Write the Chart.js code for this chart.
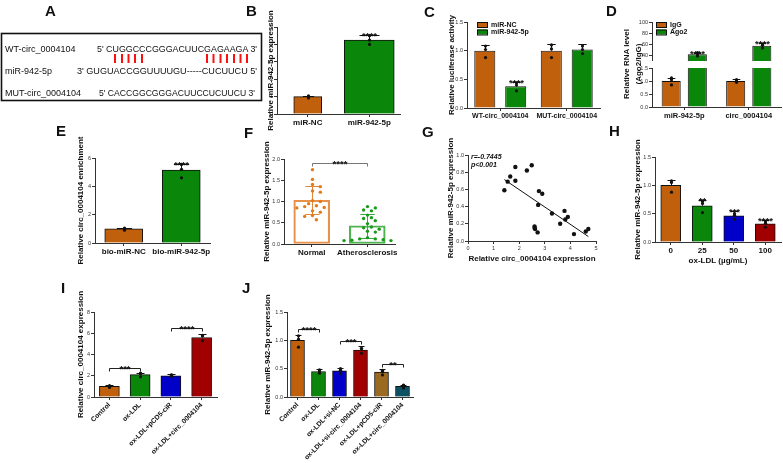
<!DOCTYPE html>
<html>
<head>
<meta charset="utf-8">
<script src="https://cdn.jsdelivr.net/npm/chart.js@4.4.0/dist/chart.umd.min.js"></script>
<style>
  body { margin: 0; width: 783px; height: 463px; position: relative; overflow: hidden; background: #fff; }
  canvas { position: absolute; }
  #overlay { position: absolute; left: 0; top: 0; z-index: 5; pointer-events: none; }
</style>
</head>
<body>
<svg id="overlay" width="783" height="463"></svg>
<script>
const FONT = 'Arial, "Liberation Sans", sans-serif';
const ORANGE = '#C0600C', GREEN = '#0A870A', BLUE = '#0000C8', RED = '#A00000', BROWN = '#9A6A20', TEAL = '#0C5064';

// B
const bLabels = ['miR-NC', 'miR-942-5p'];
const bMeans = [1.0, 4.25];
const bErr = [0.06, 0.28];
const bDots = [[0.92, 1.0, 1.04], [4.5, 4.0, 4.25]];

// C
const cLabels = ['WT-circ_0004104', 'MUT-circ_0004104'];
const cNC = [1.0, 1.0];
const cNCErr = [0.1, 0.12];
const cNCDots = [[0.88, 1.02, 1.08], [0.88, 1.03, 1.1]];
const c942 = [0.38, 1.02];
const c942Err = [0.08, 0.09];
const c942Dots = [[0.3, 0.4, 0.44], [0.95, 1.02, 1.08]];

// D
const dLabels = ['miR-942-5p', 'circ_0004104'];
const dIgG = [1.0, 1.0];
const dIgGErr = [0.12, 0.06];
const dIgGDots = [[0.85, 1.05, 1.12], [0.95, 1.0, 1.05]];
const dAgo2 = [43, 58];
const dAgo2Err = [3, 4];
const dAgo2Dots = [[40, 44, 46], [54, 59, 61]];

// E
const eLabels = ['bio-miR-NC', 'bio-miR-942-5p'];
const eMeans = [1.0, 5.15];
const eErr = [0.08, 0.45];
const eDots = [[0.9, 1.0, 1.06], [4.6, 5.2, 5.55]];

// F
const fLabels = ['Normal', 'Atherosclerosis'];
const fMeans = [1.03, 0.43];
const fSD = [0.33, 0.28];
const fNormal = [1.75, 1.52, 1.40, 1.35, 1.25, 1.22, 1.02, 1.00, 0.95, 0.90, 0.88, 0.86, 0.85, 0.78, 0.75, 0.67, 0.65, 0.57];
const fAthero = [0.88, 0.85, 0.80, 0.78, 0.68, 0.62, 0.60, 0.55, 0.48, 0.40, 0.38, 0.35, 0.30, 0.28, 0.15, 0.12, 0.10, 0.08, 0.08, 0.07, 0.09, 0.12];

// G
const gX = [1.42, 1.55, 1.65, 1.85, 1.85, 2.3, 2.49, 2.77, 2.9, 2.74, 2.6, 2.6, 2.62, 2.72, 3.28, 3.6, 3.77, 3.8, 3.9, 4.14, 4.6, 4.7];
const gY = [0.59, 0.69, 0.75, 0.86, 0.70, 0.82, 0.88, 0.58, 0.55, 0.42, 0.17, 0.15, 0.14, 0.10, 0.32, 0.20, 0.35, 0.25, 0.28, 0.08, 0.11, 0.14];

// H
const hLabels = ['0', '25', '50', '100'];
const hMeans = [1.0, 0.64, 0.46, 0.32];
const hErr = [0.1, 0.1, 0.08, 0.07];
const hDots = [[0.88, 1.05, 1.08], [0.52, 0.68, 0.72], [0.4, 0.47, 0.5], [0.26, 0.33, 0.36]];
const hStars = ['', '**', '***', '****'];

// I
const iLabels = ['Control', 'ox-LDL', 'ox-LDL+pCD5-ciR', 'ox-LDL+circ_0004104'];
const iMeans = [1.0, 2.1, 2.0, 5.6];
const iErr = [0.1, 0.2, 0.15, 0.35];
const iDots = [[0.9, 1.0, 1.08], [1.9, 2.2, 2.25], [1.92, 2.05, 2.08], [5.3, 5.75, 5.8]];
const iBrackets = [[0, 1, 2.75, '***'], [2, 3, 6.5, '****']];

// J
const jLabels = ['Control', 'ox-LDL', 'ox-LDL+si-NC', 'ox-LDL+si-circ_0004104', 'ox-LDL+pCD5-ciR', 'ox-LDL+circ_0004104'];
const jMeans = [1.0, 0.45, 0.46, 0.83, 0.44, 0.19];
const jErr = [0.1, 0.05, 0.06, 0.07, 0.06, 0.03];
const jDots = [[0.88, 1.02, 1.08], [0.42, 0.46, 0.48], [0.41, 0.47, 0.5], [0.77, 0.85, 0.86], [0.39, 0.45, 0.47], [0.16, 0.2, 0.21]];
const jBrackets = [[0, 1, 1.2, '****'], [2, 3, 0.99, '***'], [4, 5, 0.58, '**']];

const overlay = document.getElementById('overlay');
const svgNS = 'http://www.w3.org/2000/svg';
const STAR_FONT = `bold 9.5px ${FONT}`;

function svgText(txt, x, y, o = {}) {
    const t = document.createElementNS(svgNS, 'text');
    t.textContent = txt;
    t.setAttribute('x', x);
    t.setAttribute('y', y);
    t.setAttribute('font-family', FONT);
    t.setAttribute('font-size', o.size || 9);
    t.setAttribute('fill', o.color || '#111');
    if (o.weight) t.setAttribute('font-weight', o.weight);
    if (o.italic) t.setAttribute('font-style', 'italic');
    if (o.anchor) t.setAttribute('text-anchor', o.anchor);
    if (o.baseline) t.setAttribute('dominant-baseline', o.baseline);
    if (o.rotate) t.setAttribute('transform', `rotate(${o.rotate} ${x} ${y})`);
    if (o.len) {
        t.setAttribute('textLength', o.len);
        t.setAttribute('lengthAdjust', 'spacingAndGlyphs');
    }
    overlay.appendChild(t);
}

function svgLine(x1, y1, x2, y2, color, w) {
    const l = document.createElementNS(svgNS, 'line');
    l.setAttribute('x1', x1); l.setAttribute('y1', y1);
    l.setAttribute('x2', x2); l.setAttribute('y2', y2);
    l.setAttribute('stroke', color);
    l.setAttribute('stroke-width', w);
    overlay.appendChild(l);
}

function yTitle(txt, x, yc) {
    svgText(txt, x, yc, {size: 8, weight: 'bold', anchor: 'middle', baseline: 'central', rotate: -90});
}

function pick(v, i) {
    return Array.isArray(v) ? v[i] : v;
}

// simple beeswarm offsets (pixels) for dots that would overlap
function swarm(ys, r) {
    const placed = [];
    const offs = ys.map(() => 0);
    const order = ys.map((y, i) => i).sort((a, b) => ys[a] - ys[b]);
    const d = r * 2.3;
    const gap = 2 * r + 1.2;
    order.forEach(i => {
        for (let k = 0; k < 40; k++) {
            const dx = (k % 2 ? 1 : -1) * Math.ceil(k / 2) * d;
            const hit = placed.some(p => (p.x - dx) ** 2 + (p.y - ys[i]) ** 2 < gap ** 2);
            if (!hit) {
                offs[i] = dx;
                placed.push({x: dx, y: ys[i]});
                break;
            }
        }
    });
    return offs;
}

// error bars, replicate dots and stars
const marks = {
    id: 'marks',
    afterDatasetsDraw(chart) {
        const ctx = chart.ctx;
        const y = chart.scales.y;
        chart.data.datasets.forEach((ds, di) => {
            if (!ds.err && !ds.dots) return;
            chart.getDatasetMeta(di).data.forEach((bar, i) => {
                const v = ds.data[i];
                if (v == null || v < y.min || v > y.max) return;
                const cx = Math.round(bar.x) + 0.5;
                const col = pick(ds.markColor, i) || '#111';
                ctx.save();
                ctx.strokeStyle = col;
                ctx.lineWidth = 1;
                let topY = y.getPixelForValue(v);
                if (ds.err) {
                    const e = ds.err[i];
                    topY = Math.round(y.getPixelForValue(v + e)) + 0.5;
                    const lowY = ds.errBoth ? Math.round(y.getPixelForValue(v - e)) + 0.5 : y.getPixelForValue(v);
                    const cap = Math.max(3, bar.width * 0.2);
                    ctx.beginPath();
                    ctx.moveTo(cx, lowY);
                    ctx.lineTo(cx, topY);
                    ctx.moveTo(cx - cap, topY);
                    ctx.lineTo(cx + cap, topY);
                    if (ds.errBoth) {
                        ctx.moveTo(cx - cap, lowY);
                        ctx.lineTo(cx + cap, lowY);
                    }
                    ctx.stroke();
                }
                if (ds.dots) {
                    const r = ds.dotR || 1.6;
                    const pts = ds.dots[i].map(d => y.getPixelForValue(d));
                    const offs = ds.swarm ? swarm(pts, r) : pts.map(() => 0);
                    ctx.fillStyle = pick(ds.dotColor, i) || '#111';
                    pts.forEach((py, k) => {
                        ctx.beginPath();
                        ctx.arc(cx + offs[k], py, r, 0, Math.PI * 2);
                        ctx.fill();
                    });
                }
                if (ds.stars && ds.stars[i]) {
                    ctx.fillStyle = '#111';
                    ctx.font = STAR_FONT;
                    ctx.textAlign = 'center';
                    ctx.textBaseline = 'alphabetic';
                    ctx.fillText(ds.stars[i], cx, topY + 3);
                }
                ctx.restore();
            });
        });
    }
};

function bracketPlugin(list, color) {
    return {
        id: 'brackets',
        afterDatasetsDraw(chart) {
            const {ctx, scales: {x, y}} = chart;
            ctx.save();
            ctx.strokeStyle = color || '#222';
            ctx.fillStyle = '#111';
            ctx.lineWidth = 1;
            ctx.font = STAR_FONT;
            ctx.textAlign = 'center';
            list.forEach(b => {
                const x1 = Math.round(x.getPixelForValue(b[0])) + 0.5;
                const x2 = Math.round(x.getPixelForValue(b[1])) + 0.5;
                const py = Math.round(y.getPixelForValue(b[2])) + 0.5;
                ctx.beginPath();
                ctx.moveTo(x1, py + 3);
                ctx.lineTo(x1, py);
                ctx.lineTo(x2, py);
                ctx.lineTo(x2, py + 3);
                ctx.stroke();
                ctx.fillText(b[3], (x1 + x2) / 2, py + 3);
            });
            ctx.restore();
        }
    };
}

function boxLegend(dx, dy) {
    return {
        id: 'boxLegend',
        afterDraw(chart) {
            const {ctx, chartArea} = chart;
            ctx.save();
            chart.data.datasets.forEach((ds, i) => {
                const x = chartArea.left + dx, y = chartArea.top + dy + i * 7.5;
                ctx.fillStyle = ds.backgroundColor;
                ctx.fillRect(x, y, 10, 5);
                ctx.strokeStyle = '#111';
                ctx.lineWidth = 1;
                ctx.strokeRect(x + 0.5, y + 0.5, 10, 5);
                ctx.fillStyle = '#111';
                ctx.font = `bold 7px ${FONT}`;
                ctx.textBaseline = 'middle';
                ctx.fillText(ds.label, x + 14, y + 3);
            });
            ctx.restore();
        }
    };
}

function place(left, top, w, h) {
    const c = document.createElement('canvas');
    c.width = w;
    c.height = h;
    c.style.left = left + 'px';
    c.style.top = top + 'px';
    document.body.appendChild(c);
    return c;
}

// g: left, ax, yTop, yBot, xRight, xH, padTop, yMin, yMax, yStep, yDec
function axisChart(g, type, data, extra) {
    const top = g.yTop - g.padTop;
    const w = g.xRight - g.left + 2;
    const h = g.yBot - top + g.xH;
    const leftW = g.ax - g.left;
    const cv = place(g.left, top, w, h);
    const xScale = g.xScale || {
        type: 'category',
        display: g.xHidden ? false : true,
        grid: {drawOnChartArea: false, tickLength: 3, offset: false, color: '#333'},
        border: {color: '#333'},
        ticks: {
            font: {family: FONT, size: g.xFont || 8, weight: 'bold'},
            color: '#111', padding: 1, autoSkip: false,
            maxRotation: g.xRot || 0, minRotation: g.xRot || 0
        }
    };
    if (g.xTitle) {
        xScale.title = {display: true, text: g.xTitle, font: {family: FONT, size: 8, weight: 'bold', lineHeight: 1}, color: '#111', padding: 0};
    }
    xScale.afterFit = s => {
        s.height = g.xH;
        s.paddingLeft = 0;
        s.paddingRight = 0;
    };
    return new Chart(cv, {
        type: type,
        data: data,
        options: {
            responsive: false,
            animation: false,
            devicePixelRatio: 1,
            layout: {padding: {top: g.padTop, right: 2, left: 0, bottom: 0}},
            plugins: {legend: {display: false}, tooltip: {enabled: false}},
            scales: {
                x: xScale,
                y: {
                    min: g.yMin, max: g.yMax,
                    grid: {drawOnChartArea: false, tickLength: 3, color: '#333'},
                    border: {color: '#333'},
                    ticks: {
                        stepSize: g.yStep,
                        font: {family: FONT, size: 5.5},
                        color: '#333', padding: 1,
                        callback: v => Number(v).toFixed(g.yDec || 0)
                    },
                    afterBuildTicks: g.yTicks ? s => { s.ticks = g.yTicks.map(v => ({value: v})); } : undefined,
                    afterFit: s => {
                        s.width = leftW;
                        s.paddingTop = 0;
                        s.paddingBottom = 0;
                    }
                }
            }
        },
        plugins: [marks].concat(extra || [])
    });
}

function panelA() {
    const r = document.createElementNS(svgNS, 'rect');
    r.setAttribute('x', 1.5); r.setAttribute('y', 33.5);
    r.setAttribute('width', 260); r.setAttribute('height', 67);
    r.setAttribute('fill', 'none'); r.setAttribute('stroke', '#111'); r.setAttribute('stroke-width', 1.6);
    overlay.appendChild(r);
    svgText('WT-circ_0004104', 5, 52, {size: 9});
    svgText('miR-942-5p', 5, 74, {size: 9});
    svgText('MUT-circ_0004104', 5, 96, {size: 9});
    svgText("5' CUGGCCCGGGACUUCGAGAAGA 3'", 97, 52, {size: 9, len: 160});
    svgText("3' GUGUACCGGUUUUGU-----CUCUUCU 5'", 77, 74, {size: 9, len: 180});
    svgText("5' CACCGGCGGGACUUCCUCUUCU 3'", 99, 96, {size: 9, len: 156});
    [115, 122, 128.5, 135, 142, 207, 213.5, 220.5, 227, 234, 240.5, 247].forEach(x => svgLine(x, 54, x, 63, '#FF1010', 2));
}

function panelLabels() {
    [['A', 45, 15.5], ['B', 246, 15.5], ['C', 424, 17], ['D', 606, 15.5], ['E', 56, 135.5],
     ['F', 244, 138], ['G', 422, 137], ['H', 609, 135.5], ['I', 61, 293], ['J', 242, 293]]
        .forEach(p => svgText(p[0], p[1], p[2], {size: 15, weight: 'bold'}));
}

function panelB() {
    const g = {left: 263, ax: 277, yTop: 27, yBot: 114, xRight: 400, xH: 16, padTop: 8, yMin: 0, yMax: 5, yStep: 1};
    axisChart(g, 'bar', {
        labels: bLabels,
        datasets: [
            {data: [bMeans[0], null], backgroundColor: ORANGE, borderColor: '#111', borderWidth: 1, barThickness: 28, grouped: false,
             err: [bErr[0], 0], dots: [bDots[0], []]},
            {data: [null, bMeans[1]], backgroundColor: GREEN, borderColor: '#111', borderWidth: 1, barThickness: 50, grouped: false,
             err: [0, bErr[1]], dots: [[], bDots[1]], stars: ['', '****']}
        ]
    });
    yTitle('Relative miR-942-5p expression', 270, 70.5);
}

function panelC() {
    const g = {left: 452, ax: 467, yTop: 22, yBot: 108, xRight: 600, xH: 16, padTop: 6, yMin: 0, yMax: 1.5, yStep: 0.5, yDec: 1, xFont: 7};
    const common = {borderColor: '#111', borderWidth: 1, categoryPercentage: 0.93, barPercentage: 0.68};
    axisChart(g, 'bar', {
        labels: cLabels,
        datasets: [
            Object.assign({label: 'miR-NC', data: cNC, backgroundColor: ORANGE, err: cNCErr, dots: cNCDots}, common),
            Object.assign({label: 'miR-942-5p', data: c942, backgroundColor: GREEN, err: c942Err, dots: c942Dots, stars: ['****', '']}, common)
        ]
    }, [boxLegend(10, 0)]);
    yTitle('Relative luciferase activity', 451, 65);
}

function panelD() {
    const common = {borderColor: '#111', borderWidth: 1, categoryPercentage: 0.81, barPercentage: 0.73};
    const sets = () => [
        Object.assign({label: 'IgG', data: dIgG, backgroundColor: ORANGE, err: dIgGErr, dots: dIgGDots}, common),
        Object.assign({label: 'Ago2', data: dAgo2, backgroundColor: GREEN, err: dAgo2Err, dots: dAgo2Dots, stars: ['****', '****']}, common)
    ];
    const up = {left: 638, ax: 652, yTop: 22, yBot: 61, xRight: 781, xH: 0, padTop: 4, yMin: 31, yMax: 100, yTicks: [40, 60, 80, 100], xHidden: true};
    axisChart(up, 'bar', {labels: dLabels, datasets: sets()}, [boxLegend(4, 0)]);
    const low = {left: 638, ax: 652, yTop: 68, yBot: 107, xRight: 781, xH: 16, padTop: 4, yMin: 0, yMax: 1.5, yStep: 0.5, yDec: 1, xFont: 7.5};
    axisChart(low, 'bar', {labels: dLabels, datasets: sets()});
    svgText('Relative RNA level', 626, 64, {size: 8, weight: 'bold', anchor: 'middle', baseline: 'central', rotate: -90});
    svgText('(Ago2/IgG)', 638, 64, {size: 8, weight: 'bold', anchor: 'middle', baseline: 'central', rotate: -90});
}

function panelE() {
    const g = {left: 81, ax: 95, yTop: 158, yBot: 243, xRight: 210, xH: 16, padTop: 6, yMin: 0, yMax: 6, yStep: 2};
    axisChart(g, 'bar', {
        labels: eLabels,
        datasets: [{data: eMeans, backgroundColor: [ORANGE, GREEN], borderColor: '#111', borderWidth: 1, barThickness: 38,
                    err: eErr, dots: eDots, stars: ['', '****']}]
    });
    yTitle('Relative circ_0004104 enrichment', 80, 200.5);
}

function panelF() {
    const g = {left: 270, ax: 284, yTop: 159, yBot: 244, xRight: 395, xH: 16, padTop: 6, yMin: 0, yMax: 2, yStep: 0.5, yDec: 1};
    axisChart(g, 'bar', {
        labels: fLabels,
        datasets: [{data: fMeans, backgroundColor: 'rgba(0,0,0,0)', borderColor: ['#E8914A', '#4FB34F'], borderWidth: 1.5,
                    borderSkipped: false, barThickness: 36, err: fSD, errBoth: true, markColor: ['#E0873A', '#3CA83C'],
                    dots: [fNormal, fAthero], dotColor: ['#E07B18', '#1A9A1A'], dotR: 1.7, swarm: true}]
    }, [bracketPlugin([[0, 1, 1.9, '****']], '#777')]);
    yTitle('Relative miR-942-5p expression', 266, 201.5);
}

function panelG() {
    const n = gX.length;
    const mx = gX.reduce((a, b) => a + b) / n, my = gY.reduce((a, b) => a + b) / n;
    let sxy = 0, sxx = 0;
    gX.forEach((x, i) => { sxy += (x - mx) * (gY[i] - my); sxx += (x - mx) ** 2; });
    const slope = sxy / sxx, icpt = my - slope * mx;
    const x1 = Math.min(...gX), x2 = Math.max(...gX);
    const g = {
        left: 454, ax: 468, yTop: 155, yBot: 241, xRight: 598, xH: 22, padTop: 6, yMin: 0, yMax: 1, yStep: 0.2, yDec: 1,
        xScale: {
            type: 'linear', min: 0, max: 5,
            grid: {drawOnChartArea: false, tickLength: 3, color: '#333'},
            border: {color: '#333'},
            ticks: {stepSize: 1, font: {family: FONT, size: 5.5}, color: '#333', padding: 1},
            title: {display: true, text: 'Relative circ_0004104 expression', font: {family: FONT, size: 8, weight: 'bold', lineHeight: 1}, color: '#111', padding: 0}
        }
    };
    axisChart(g, 'scatter', {
        datasets: [
            {data: gX.map((x, i) => ({x: x, y: gY[i]})), backgroundColor: '#111', borderColor: '#111', pointRadius: 2.2, pointBorderWidth: 0},
            {type: 'line', data: [{x: x1, y: icpt + slope * x1}, {x: x2, y: icpt + slope * x2}], borderColor: '#111', borderWidth: 1, pointRadius: 0}
        ]
    });
    yTitle('Relative miR-942-5p expression', 450, 198);
    svgText('r=-0.7445', 471, 159, {size: 7, weight: 'bold', italic: true});
    svgText('p<0.001', 471, 166.5, {size: 7, weight: 'bold', italic: true});
}

function panelH() {
    const g = {left: 641, ax: 655, yTop: 157, yBot: 242, xRight: 781, xH: 23, padTop: 6, yMin: 0, yMax: 1.5, yStep: 0.5, yDec: 1,
               xTitle: 'ox-LDL (µg/mL)'};
    axisChart(g, 'bar', {
        labels: hLabels,
        datasets: [{data: hMeans, backgroundColor: [ORANGE, GREEN, BLUE, RED], borderColor: '#111', borderWidth: 1, barThickness: 20,
                    err: hErr, dots: hDots, stars: hStars}]
    });
    yTitle('Relative miR-942-5p expression', 637, 199.5);
}

function panelI() {
    const g = {left: 80, ax: 94, yTop: 312, yBot: 397, xRight: 217, xH: 66, padTop: 6, yMin: 0, yMax: 8, yStep: 2, xRot: 45, xFont: 6.8};
    axisChart(g, 'bar', {
        labels: iLabels,
        datasets: [{data: iMeans, backgroundColor: [ORANGE, GREEN, BLUE, RED], borderColor: '#111', borderWidth: 1, barThickness: 20,
                    err: iErr, dots: iDots}]
    }, [bracketPlugin(iBrackets)]);
    yTitle('Relative circ_0004104 expression', 80, 354.5);
}

function panelJ() {
    const g = {left: 273, ax: 287, yTop: 312, yBot: 397, xRight: 413, xH: 66, padTop: 6, yMin: 0, yMax: 1.5, yStep: 0.5, yDec: 1, xRot: 45, xFont: 6.8};
    axisChart(g, 'bar', {
        labels: jLabels,
        datasets: [{data: jMeans, backgroundColor: [ORANGE, GREEN, BLUE, RED, BROWN, TEAL], borderColor: '#111', borderWidth: 1, barThickness: 14,
                    err: jErr, dots: jDots}]
    }, [bracketPlugin(jBrackets)]);
    yTitle('Relative miR-942-5p expression', 267, 354.5);
}

panelA();
panelLabels();
panelB();
panelC();
panelD();
panelE();
panelF();
panelG();
panelH();
panelI();
panelJ();
</script>
</body>
</html>
